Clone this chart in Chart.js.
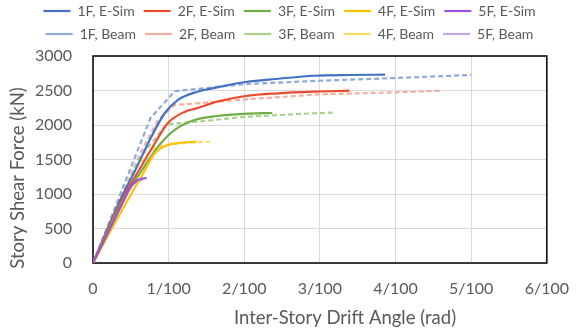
<!DOCTYPE html>
<html>
<head>
<meta charset="utf-8">
<script src="https://cdn.jsdelivr.net/npm/chart.js@4"></script>
<style>
  html, body { margin: 0; padding: 0; background: #fff; }
  #wrap { width: 585px; height: 329px; }
</style>
</head>
<body>
<div id="wrap"><canvas id="myChart"></canvas></div>
<script>
// drift angle in rad, story shear in kN
const sim1F_x = [0, 0.0036, 0.0056, 0.0077, 0.0095, 0.0112, 0.0138, 0.0164, 0.0202, 0.0241, 0.0292, 0.0340, 0.0386];
const sim1F_y = [0, 913, 1348, 1826, 2174, 2362, 2483, 2546, 2623, 2667, 2714, 2725, 2729];
const sim2F_x = [0, 0.0038, 0.0061, 0.0082, 0.0099, 0.0121, 0.0138, 0.0164, 0.0202, 0.0245, 0.0292, 0.0339];
const sim2F_y = [0, 913, 1348, 1739, 2029, 2190, 2245, 2338, 2420, 2459, 2483, 2497];
const sim3F_x = [0, 0.0040, 0.0065, 0.0086, 0.0108, 0.0134, 0.0164, 0.0200, 0.0237];
const sim3F_y = [0, 913, 1348, 1686, 1928, 2072, 2130, 2162, 2174];
const sim4F_x = [0, 0.0046, 0.0064, 0.0082, 0.0099, 0.0116, 0.0137];
const sim4F_y = [0, 913, 1251, 1594, 1710, 1743, 1758];
const sim5F_x = [0, 0.0028, 0.0041, 0.0050, 0.0058, 0.0065, 0.0071];
const sim5F_y = [0, 623, 913, 1106, 1193, 1222, 1230];

const beam1F_x = [0, 0.0076, 0.0108, 0.0202, 0.0301, 0.0400, 0.0500];
const beam1F_y = [0, 2100, 2490, 2594, 2642, 2681, 2725];
const beam2F_x = [0, 0.0062, 0.0086, 0.0108, 0.0138, 0.0202, 0.0301, 0.0400, 0.0462];
const beam2F_y = [0, 1580, 2072, 2290, 2314, 2372, 2445, 2474, 2497];
const beam3F_x = [0, 0.0060, 0.0097, 0.0138, 0.0202, 0.0292, 0.0317];
const beam3F_y = [0, 1500, 2010, 2048, 2120, 2170, 2178];
const beam4F_x = [0, 0.0058, 0.0082, 0.0112, 0.0155];
const beam4F_y = [0, 1400, 1686, 1732, 1761];
const beam5F_x = [0, 0.0050, 0.0066];
const beam5F_y = [0, 1130, 1215];

const xTicks = ["0", "1/100", "2/100", "3/100", "4/100", "5/100", "6/100"];

function pts(xs, ys) {
  return xs.map((x, i) => ({ x: x, y: ys[i] }));
}

// beams drawn first, sim curves over them (higher order = drawn sooner)
function simLine(label, xs, ys, color, n) {
  return {
    label: label, data: pts(xs, ys), order: 5 - n,
    borderColor: color, backgroundColor: color,
    borderWidth: 2.2, pointRadius: 0, cubicInterpolationMode: "monotone"
  };
}
function beamLine(label, xs, ys, color, n) {
  return {
    label: label, data: pts(xs, ys), order: 20 - n,
    borderColor: color, backgroundColor: color,
    borderWidth: 2.2, borderDash: [5, 3], pointRadius: 0, tension: 0
  };
}

const grey = "#595959";

// black frame round the plot area
const frame = {
  id: "frame",
  beforeDatasetsDraw(chart) {
    const a = chart.chartArea, c = chart.ctx;
    c.save();
    c.strokeStyle = "#000";
    c.lineWidth = 1.5;
    c.strokeRect(a.left, a.top, a.right - a.left, a.bottom - a.top);
    c.restore();
  }
};

// axis titles, placed like the excel original
const axisTitles = {
  id: "axisTitles",
  afterDraw(chart) {
    const c = chart.ctx;
    c.save();
    c.fillStyle = grey;
    c.font = "18.5px Lato";
    c.textAlign = "center";
    c.textBaseline = "middle";
    c.fillText("Inter-Story Drift Angle (rad)", 345, 318);
    c.translate(18, 178);
    c.rotate(-Math.PI / 2);
    c.fillText("Story Shear Force (kN)", 0, 0);
    c.restore();
  }
};

const nudgeLegend = {
  id: "nudgeLegend",
  afterLayout(chart) {
    const l = chart.legend;
    l.top -= 5; l.bottom -= 5;
    l.left += 10; l.right += 10;
  }
};

document.addEventListener("DOMContentLoaded", function () {
  const ctx = document.getElementById("myChart").getContext("2d");
  new Chart(ctx, {
    type: "line",
    data: {
      datasets: [
        simLine("1F, E-Sim", sim1F_x, sim1F_y, "#4472C4", 0),
        simLine("2F, E-Sim", sim2F_x, sim2F_y, "#EC4A2E", 1),
        simLine("3F, E-Sim", sim3F_x, sim3F_y, "#70AD47", 2),
        simLine("4F, E-Sim", sim4F_x, sim4F_y, "#FFC000", 3),
        simLine("5F, E-Sim", sim5F_x, sim5F_y, "#9E50D8", 4),
        beamLine("1F, Beam", beam1F_x, beam1F_y, "#8EA9DB", 5),
        beamLine("2F, Beam", beam2F_x, beam2F_y, "#F5AE9F", 6),
        beamLine("3F, Beam", beam3F_x, beam3F_y, "#A9D18E", 7),
        beamLine("4F, Beam", beam4F_x, beam4F_y, "#FFD966", 8),
        beamLine("5F, Beam", beam5F_x, beam5F_y, "#C9A3EE", 9)
      ]
    },
    options: {
      responsive: true,
      maintainAspectRatio: false,
      animation: false,
      layout: { padding: { left: 0, right: 26, top: 0, bottom: 0 } },
      plugins: {
        legend: {
          position: "top",
          labels: {
            usePointStyle: true,
            pointStyle: "line",
            pointStyleWidth: 27,
            padding: 9,
            color: grey,
            font: { family: "Lato", size: 14 },
            sort: (a, b) => a.datasetIndex - b.datasetIndex
          }
        },
        tooltip: { enabled: false }
      },
      scales: {
        x: {
          type: "linear",
          min: 0, max: 0.06,
          afterFit(s) { s.height = 66; },
          grid: { color: "#D9D9D9", drawTicks: false },
          border: { display: false },
          ticks: {
            stepSize: 0.01,
            padding: 16,
            color: grey,
            font: { family: "Lato", size: 16 },
            callback: (v) => xTicks[Math.round(v * 100)]
          }
        },
        y: {
          min: 0, max: 3000,
          afterFit(s) { s.width = 93; },
          grid: { color: "#D9D9D9", drawTicks: false },
          border: { display: false },
          ticks: {
            stepSize: 500,
            padding: 21,
            color: grey,
            font: { family: "Lato", size: 16 },
            callback: (v) => String(v)
          }
        }
      }
    },
    plugins: [frame, axisTitles, nudgeLegend]
  });
});
</script>
</body>
</html>
